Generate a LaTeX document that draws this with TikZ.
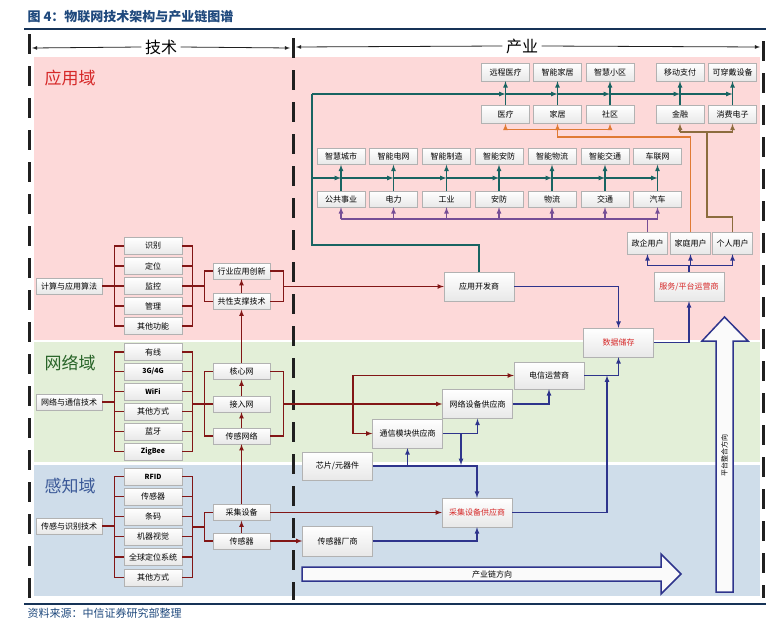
\documentclass[tikz,border=0pt]{standalone}
\usepackage{fontspec}
\setmainfont{Noto Sans CJK SC}
\usetikzlibrary{arrows}
\definecolor{appPink}{RGB}{253,217,217}
\definecolor{netGreen}{RGB}{227,239,216}
\definecolor{senseBlue}{RGB}{207,221,234}
\definecolor{darkRed}{RGB}{130,22,22}
\definecolor{tealLine}{RGB}{24,100,98}
\definecolor{navyLine}{RGB}{46,52,140}
\definecolor{orangeLine}{RGB}{224,122,52}
\definecolor{oliveLine}{RGB}{140,108,62}
\definecolor{purpleLine}{RGB}{118,78,150}
\definecolor{titleBlue}{RGB}{31,73,125}
\definecolor{labelRed}{RGB}{214,40,40}
\definecolor{labelGreen}{RGB}{40,100,40}
\definecolor{labelBlue}{RGB}{59,89,152}

\begin{document}
\begin{tikzpicture}[x=1pt, y=-1pt, >=latex,
   box/.style={rectangle, draw=gray!60, top color=white, bottom color=gray!18, inner sep=0pt, font=\fontsize{8}{8}\selectfont},
   redtext/.style={text=labelRed},
   dashline/.style={line width=3pt, draw=gray!25!black, dash pattern=on 20pt off 12pt},
   domainlabel/.style={anchor=west, font=\fontsize{17}{17}\selectfont}]
   \useasboundingbox (0,0) rectangle (770,621);
   % backgrounds
   \fill[appPink] (34,57) rectangle (760,340);
   \fill[netGreen] (34,342) rectangle (760,462);
   \fill[senseBlue] (34,465) rectangle (760,596);
   % title and source
   \node[anchor=west, text=titleBlue, font=\fontsize{13}{13}\selectfont\bfseries] (title) at (24,17) {图 4：物联网技术架构与产业链图谱};
   \draw[titleBlue!70!black, line width=1.6pt] (24,29) -- (766,29);
   \draw[titleBlue!70!black, line width=1.6pt] (24,604) -- (766,604);
   \node[anchor=west, text=titleBlue, font=\fontsize{11}{11}\selectfont] (source) at (24,613) {资料来源：中信证券研究部整理};
   % dashed separators
   \draw[dashline] (29,34) -- (29,602);
   \draw[dashline] (293,38) -- (293,600);
   \draw[dashline] (763,41) -- (763,598);
   % header
   \node[font=\fontsize{16}{16}\selectfont] (techHead) at (161,47) {技术};
   \node[font=\fontsize{16}{16}\selectfont] (industryHead) at (522,46) {产业};
   \draw[<-, gray!25!black, line width=0.8pt] (32,48) -- (techHead.west);
   \draw[->, gray!25!black, line width=0.8pt] (techHead.east) -- (290,48);
   \draw[<-, gray!25!black, line width=0.8pt] (296,47) -- (industryHead.west);
   \draw[->, gray!25!black, line width=0.8pt] (industryHead.east) -- (760,47);
   % domain labels
   \node[domainlabel, text=labelRed] (appLabel) at (41,78) {应用域};
   \node[domainlabel, text=labelGreen] (netLabel) at (41,363) {网络域};
   \node[domainlabel, text=labelBlue] (senseLabel) at (41,486) {感知域};

   % technology side
   \node[box, minimum width=66pt, minimum height=16pt] (algo) at (69,286) {计算与应用算法};
   \node[box, minimum width=66pt, minimum height=16pt] (netTech) at (69,402) {网络与通信技术};
   \node[box, minimum width=66pt, minimum height=16pt] (senseTech) at (69,526) {传感与识别技术};
   \begin{scope}[every node/.style={box, minimum width=58pt, minimum height=17pt}]
    \node (recog) at (153,246) {识别};
    \node (locate) at (153,266) {定位};
    \node (monitor) at (153,286) {监控};
    \node (manage) at (153,306) {管理};
    \node (otherFunc) at (153,326) {其他功能};
    \node (wired) at (153,352) {有线};
    \node (mobile) at (153,371.5) {\bfseries\fontsize{7}{7}\selectfont 3G/4G};
    \node (wifi) at (153,391.5) {\bfseries\fontsize{7}{7}\selectfont WiFi};
    \node (otherMode) at (153,411.5) {其他方式};
    \node (bluetooth) at (153,431.5) {蓝牙};
    \node (zigbee) at (153,451.5) {\bfseries\fontsize{7}{7}\selectfont ZigBee};
    \node (rfid) at (153,476.5) {\bfseries\fontsize{7}{7}\selectfont RFID};
    \node (sensorItem) at (153,496.5) {传感器};
    \node (barcode) at (153,516.5) {条码};
    \node (vision) at (153,536.5) {机器视觉};
    \node (gps) at (153,557) {全球定位系统};
    \node (otherWay) at (153,577.5) {其他方式};
   \end{scope}
   \begin{scope}[every node/.style={box, minimum width=57pt, minimum height=16pt}]
    \node (innov) at (241.5,271) {行业应用创新};
    \node (support) at (241.5,301.5) {共性支撑技术};
    \node (core) at (241.5,371.5) {核心网};
    \node (access) at (241.5,404) {接入网};
    \node (sensorNet) at (241.5,436) {传感网络};
    \node (collect) at (241.5,512.5) {采集设备};
    \node (sensor) at (241.5,541) {传感器};
   \end{scope}

   % industry side
   \begin{scope}[every node/.style={box, minimum width=48pt, minimum height=18pt}]
    \node (remoteMed) at (505.5,72) {远程医疗};
    \node (smartHome) at (557.5,72) {智能家居};
    \node (smartCommunity) at (610,72) {智慧小区};
    \node (mobilePay) at (680,72) {移动支付};
    \node (wearable) at (732.5,72) {可穿戴设备};
    \node (medical) at (505.5,114.5) {医疗};
    \node (home) at (557.5,114.5) {家居};
    \node (community) at (610,114.5) {社区};
    \node (finance) at (680,114.5) {金融};
    \node (consumer) at (732.5,114.5) {消费电子};
   \end{scope}
   \begin{scope}[every node/.style={box, minimum width=48pt, minimum height=16pt}]
    \node (smartCity) at (341,156.5) {智慧城市};
    \node (smartGrid) at (393.5,156.5) {智能电网};
    \node (smartMfg) at (446.5,156.5) {智能制造};
    \node (smartSecurity) at (499,156.5) {智能安防};
    \node (smartLogistics) at (552,156.5) {智能物流};
    \node (smartTraffic) at (605,156.5) {智能交通};
    \node (iov) at (657.5,156.5) {车联网};
    \node (utility) at (341,199) {公共事业};
    \node (power) at (393.5,199) {电力};
    \node (industry) at (446.5,199) {工业};
    \node (security) at (499,199) {安防};
    \node (logistics) at (552,199) {物流};
    \node (traffic) at (605,199) {交通};
    \node (car) at (657.5,199) {汽车};
   \end{scope}
   \begin{scope}[every node/.style={box, minimum width=40pt, minimum height=22pt}]
    \node (govUser) at (647.5,243) {政企用户};
    \node (homeUser) at (690.5,243) {家庭用户};
    \node (personUser) at (732.5,243) {个人用户};
   \end{scope}
   \begin{scope}[every node/.style={box, minimum width=70pt, minimum height=29pt}]
    \node (platform) at (689,286.5) [redtext] {服务/平台运营商};
    \node (appDev) at (479,286.5) {应用开发商};
    \node (storage) at (618.5,342.5) [redtext] {数据储存};
    \node (telecom) at (549,375.5) [minimum height=27pt] {电信运营商};
    \node (netEquip) at (477.5,404) {网络设备供应商};
    \node (commModule) at (407.5,433.5) {通信模块供应商};
    \node (chip) at (337.5,466) [minimum height=28pt] {芯片/元器件};
    \node (collectSupplier) at (477,512.5) [redtext] {采集设备供应商};
    \node (sensorMaker) at (337.5,541) [minimum height=30pt] {传感器厂商};
   \end{scope}

   % big direction arrows
   \draw[navyLine, line width=1.5pt, fill=gray!4] (716,592) -- (716,341) -- (702,341) -- (724.5,317) -- (748,341) -- (733,341) -- (733,592) -- cycle;
   \node[rotate=90, font=\fontsize{7}{7}\selectfont] (platformDir) at (724.5,455) {平台整合方向};
   \draw[navyLine, line width=1.5pt, fill=gray!4] (302,567) -- (661,567) -- (661,554) -- (681,574) -- (661,594) -- (661,581) -- (302,581) -- cycle;
   \node[font=\fontsize{8}{8}\selectfont] (chainDir) at (492,574) {产业链方向};

   % technology brackets
   \begin{scope}[darkRed, line width=1.3pt]
    \draw (algo.east) -- (115,286);
    \draw (recog.west) -- ++(-9,0) |- (otherFunc.west);
    \draw (locate.west) -- ++(-9,0);
    \draw (monitor.west) -- ++(-9,0);
    \draw (manage.west) -- ++(-9,0);
    \draw (recog.east) -- ++(10,0) |- (otherFunc.east);
    \draw (locate.east) -- ++(10,0);
    \draw (manage.east) -- ++(10,0);
    \draw (monitor.east) -- (205,286);
    \draw (innov.west) -- ++(-8,0) |- (support.west);
    \draw (innov.east) -- ++(13,0) |- (support.east);
    \draw (netTech.east) -- (115,402);
    \draw (wired.west) -- ++(-9,0) |- (zigbee.west);
    \draw (mobile.west) -- ++(-9,0);
    \draw (wifi.west) -- ++(-9,0);
    \draw (otherMode.west) -- ++(-9,0);
    \draw (bluetooth.west) -- ++(-9,0);
    \draw (wired.east) -- ++(10,0) |- (zigbee.east);
    \draw (mobile.east) -- ++(10,0);
    \draw (wifi.east) -- ++(10,0);
    \draw (otherMode.east) -- ++(10,0);
    \draw (bluetooth.east) -- ++(10,0);
    \draw (192,404) -- (access.west);
    \draw (core.west) -- ++(-8,0) |- (sensorNet.west);
    \draw (core.east) -- ++(13,0) |- (sensorNet.east);
    \draw (senseTech.east) -- (115,526);
    \draw (rfid.west) -- ++(-9,0) |- (otherWay.west);
    \draw (sensorItem.west) -- ++(-9,0);
    \draw (barcode.west) -- ++(-9,0);
    \draw (vision.west) -- ++(-9,0);
    \draw (gps.west) -- ++(-9,0);
    \draw (rfid.east) -- ++(10,0) |- (otherWay.east);
    \draw (sensorItem.east) -- ++(10,0);
    \draw (barcode.east) -- ++(10,0);
    \draw (vision.east) -- ++(10,0);
    \draw (gps.east) -- ++(10,0);
    \draw (192,527) -- (205,527);
    \draw (collect.west) -- ++(-8,0) |- (sensor.west);
   \end{scope}
   \begin{scope}[darkRed, line width=1.1pt]
    \draw[->] (support.north) -- (innov.south);
    \draw[->] (core.north) -- (support.south);
    \draw[->] (access.north) -- (core.south);
    \draw[->] (sensorNet.north) -- (access.south);
    \draw[->] (collect.north) -- (sensorNet.south);
    \draw[->] (sensor.north) -- (collect.south);
    \coordinate (appOut) at (283,286.5);
    \coordinate (netOut) at (283,404);
    \coordinate (netSplit) at (353,404);
    \draw[->] (appOut) -- (appDev.west);
    \draw[->] (netOut) -- (netEquip.west);
    \draw[->] (netSplit) |- (telecom.west);
    \draw[->] (netSplit) |- (commModule.west);
    \draw[->] (collect.east) -- (collectSupplier.west);
    \draw[->] (sensor.east) -- (sensorMaker.west);
   \end{scope}

   % application chains
   \begin{scope}[tealLine, line width=1.2pt]
    \coordinate (tealCorner) at (312,245);
    \coordinate (tealTop) at (312,94);
    \coordinate (tealMid) at (312,178);
    \draw (appDev.north) |- (tealCorner) -- (tealTop);
    \draw[->] (tealTop) -- (medical.north |- tealTop);
    \draw[->] (medical.north |- tealTop) -- (home.north |- tealTop);
    \draw[->] (home.north |- tealTop) -- (community.north |- tealTop);
    \draw[->] (community.north |- tealTop) -- (finance.north |- tealTop);
    \draw[->] (finance.north |- tealTop) -- (consumer.north |- tealTop);
    \draw[->] (medical.north) -- (remoteMed.south);
    \draw[->] (home.north) -- (smartHome.south);
    \draw[->] (community.north) -- (smartCommunity.south);
    \draw[->] (finance.north) -- (mobilePay.south);
    \draw[->] (consumer.north) -- (wearable.south);
    \draw[->] (tealMid) -- (utility.north |- tealMid);
    \draw[->] (utility.north |- tealMid) -- (power.north |- tealMid);
    \draw[->] (power.north |- tealMid) -- (industry.north |- tealMid);
    \draw[->] (industry.north |- tealMid) -- (security.north |- tealMid);
    \draw[->] (security.north |- tealMid) -- (logistics.north |- tealMid);
    \draw[->] (logistics.north |- tealMid) -- (traffic.north |- tealMid);
    \draw[->] (traffic.north |- tealMid) -- (car.north |- tealMid);
    \draw[->] (utility.north) -- (smartCity.south);
    \draw[->] (power.north) -- (smartGrid.south);
    \draw[->] (industry.north) -- (smartMfg.south);
    \draw[->] (security.north) -- (smartSecurity.south);
    \draw[->] (logistics.north) -- (smartLogistics.south);
    \draw[->] (traffic.north) -- (smartTraffic.south);
    \draw[->] (car.north) -- (iov.south);
   \end{scope}
   \begin{scope}[purpleLine, line width=1.2pt]
    \coordinate (purpleJoin) at (647.5,219);
    \draw (govUser.north) -- (purpleJoin);
    \draw (utility.south |- purpleJoin) -- (car.south |- purpleJoin);
    \draw[->] (utility.south |- purpleJoin) -- (utility.south);
    \draw[->] (power.south |- purpleJoin) -- (power.south);
    \draw[->] (industry.south |- purpleJoin) -- (industry.south);
    \draw[->] (security.south |- purpleJoin) -- (security.south);
    \draw[->] (logistics.south |- purpleJoin) -- (logistics.south);
    \draw[->] (traffic.south |- purpleJoin) -- (traffic.south);
    \draw[->] (car.south |- purpleJoin) -- (car.south);
   \end{scope}
   \begin{scope}[orangeLine, line width=1.2pt]
    \coordinate (orangeTurn) at (690.5,137);
    \coordinate (orangeBar) at (557.5,129.5);
    \draw (homeUser.north) -- (orangeTurn) -| (orangeBar);
    \draw (medical.south |- orangeBar) -- (community.south |- orangeBar);
    \draw[->] (medical.south |- orangeBar) -- (medical.south);
    \draw[->] (home.south |- orangeBar) -- (home.south);
    \draw[->] (community.south |- orangeBar) -- (community.south);
   \end{scope}
   \begin{scope}[oliveLine, line width=1.2pt]
    \coordinate (oliveTurn) at (707,217);
    \coordinate (oliveBar) at (707,132);
    \draw (personUser.north) |- (oliveTurn) -- (oliveBar);
    \draw (finance.south |- oliveBar) -- (consumer.south |- oliveBar);
    \draw[->] (finance.south |- oliveBar) -- (finance.south);
    \draw[->] (consumer.south |- oliveBar) -- (consumer.south);
   \end{scope}

   % industry chain
   \begin{scope}[navyLine, line width=1.2pt]
    \coordinate (userBar) at (689,265.5);
    \draw (platform.north) -- (userBar);
    \draw (govUser.south |- userBar) -- (personUser.south |- userBar);
    \draw[->] (govUser.south |- userBar) -- (govUser.south);
    \draw[->] (homeUser.south |- userBar) -- (homeUser.south);
    \draw[->] (personUser.south |- userBar) -- (personUser.south);
    \draw[->] (appDev.east) -| (storage.north);
    \draw[->] (storage.east) -| (platform.south);
    \draw[->] (telecom.east) -| (storage.south);
    \draw[->] (netEquip.east) -| (telecom.south);
    \draw[->] (commModule.east) -| (netEquip.south);
    \coordinate (commDrop) at (461,433.5);
    \coordinate (chipBus) at (461,465);
    \coordinate (collectRise) at (607,375.5);
    \draw[->] (commDrop) -- (chipBus);
    \draw[->] (chip.east) -| (collectSupplier.north);
    \draw[->] (chip.east -| commModule.south) -- (commModule.south);
    \draw[->] (sensorMaker.east) -| (collectSupplier.south);
    \draw[->] (collectSupplier.east) -| (collectRise);
   \end{scope}
\end{tikzpicture}
\end{document}
